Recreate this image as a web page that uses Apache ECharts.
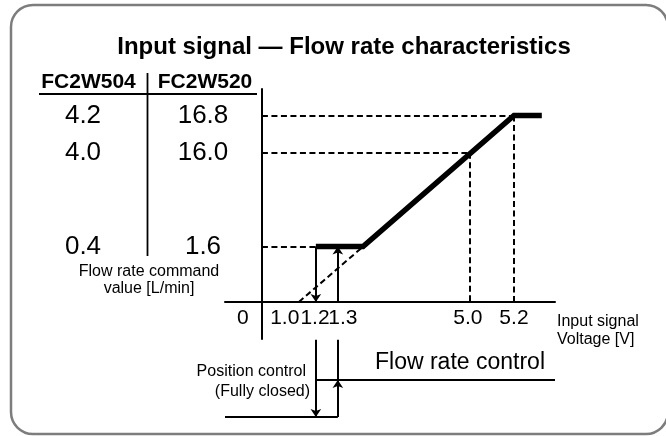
<!DOCTYPE html>
<html>
<head>
<meta charset="utf-8">
<title>Input signal — Flow rate characteristics</title>
<script src="https://cdn.jsdelivr.net/npm/echarts@6/dist/echarts.min.js"></script>
<style>
  html, body { margin: 0; padding: 0; background: #fff; }
  #chart { width: 666px; height: 436px; }
</style>
</head>
<body>
<div id="chart"></div>
<script>
// values printed on the figure
const voltTicks = [0, 1.0, 1.2, 1.3, 5.0, 5.2];
const flowTicks504 = [4.2, 4.0, 0.4];
const flowTicks520 = [16.8, 16.0, 1.6];

// the figure is a schematic, not to scale: where each value sits on the axes
const voltAt = [0, 12.6, 18.4, 25.9, 71.0, 86.0];
const voltLabelAt = [-6.5, 7.8, 18.1, 27.6, 70.3, 86.0]; // labels get pushed apart near 1 V
const flowAt = [87.6, 70.1, 26.0];
const rampStartAt = 34.5;   // end of the 1.6 L/min step
const plateauEndAt = 95.5;  // end of the 16.8 L/min plateau

// lower panel: control mode levels
const modeLevels = { closed: 0, flow: 1, top: 2.08 };

const NARROW = "'Liberation Sans Narrow', 'Arial Narrow', 'Liberation Sans', Arial, sans-serif";
const SANS = "'Liberation Sans', Arial, Helvetica, sans-serif";

const vx = v => voltAt[voltTicks.indexOf(v)];
const fy = v => flowAt[flowTicks520.indexOf(v)];
const nearest = (arr, v) => {
  let best = 0;
  arr.forEach((a, i) => { if (Math.abs(a - v) < Math.abs(arr[best] - v)) best = i; });
  return best;
};

const mainLine = [
  [vx(1.2), fy(1.6)],
  [rampStartAt, fy(1.6)],
  [vx(5.2), fy(16.8)],
  [plateauEndAt, fy(16.8)]
];

const dashedLines = [
  [[0, fy(16.8)], [vx(5.2), fy(16.8)]],
  [[0, fy(16.0)], [vx(5.0), fy(16.0)]],
  [[0, fy(1.6)], [vx(1.2), fy(1.6)]],
  [[vx(5.0), fy(16.0)], [vx(5.0), 0]],
  [[vx(5.2), fy(16.8)], [vx(5.2), 0]],
  [[vx(1.0), 0], [rampStartAt, fy(1.6)]]
];

// hysteresis: close at 1.2 V going down, open at 1.3 V going up
const upperArrows = [
  [[vx(1.2), fy(1.6)], [vx(1.2), 0]],
  [[vx(1.3), 0], [vx(1.3), fy(1.6)]]
];
const lowerArrows = [
  [[vx(1.2), modeLevels.top], [vx(1.2), modeLevels.closed]],
  [[vx(1.3), modeLevels.closed], [vx(1.3), modeLevels.flow]]
];
const lowerLines = [
  [[0, 3.1], [0, modeLevels.top]],   // y axis runs on below the voltage axis
  [[vx(1.3), modeLevels.flow], [vx(1.3), modeLevels.top]],
  [[-12.6, modeLevels.closed], [vx(1.3), modeLevels.closed]],
  [[vx(1.2), modeLevels.flow], [100, modeLevels.flow]]
];

const chart = echarts.init(document.getElementById('chart'));

chart.setOption({
  animation: false,
  backgroundColor: '#fff',
  textStyle: { fontFamily: SANS, color: '#000' },
  title: {
    text: 'Input signal — Flow rate characteristics',
    left: 344,
    top: 35,
    textAlign: 'center',
    padding: 0,
    textStyle: { fontSize: 24, fontWeight: 'bold', color: '#000', fontFamily: SANS }
  },
  grid: [
    { left: 225, right: 111, top: 89, bottom: 134, outerBoundsMode: 'none' },
    { left: 225, right: 111, top: 302, bottom: 19, outerBoundsMode: 'none' }
  ],
  xAxis: [
    {
      gridIndex: 0,
      type: 'value',
      min: -12.6,
      max: 100,
      name: 'Input signal\nVoltage [V]',
      nameLocation: 'end',
      nameGap: 2,
      nameTextStyle: {
        fontSize: 16, lineHeight: 17.5, color: '#000',
        align: 'left', verticalAlign: 'top', padding: [11, 0, 0, 0]
      },
      axisLine: { lineStyle: { color: '#000', width: 2 } },
      axisTick: { show: false },
      splitLine: { show: false },
      axisLabel: {
        customValues: voltLabelAt,
        formatter: v => {
          const t = voltTicks[nearest(voltLabelAt, v)];
          return t === 0 ? '0' : t.toFixed(1);
        },
        margin: 6,
        fontSize: 21,
        color: '#000',
        fontFamily: NARROW
      }
    },
    { gridIndex: 1, type: 'value', min: -12.6, max: 100, show: false }
  ],
  yAxis: [
    {
      gridIndex: 0,
      type: 'value',
      min: 0,
      max: 100,
      axisLine: { show: true, onZero: true, lineStyle: { color: '#000', width: 2 } },
      axisTick: { show: false },
      splitLine: { show: false },
      axisLabel: {
        customValues: flowAt,
        formatter: v => flowTicks520[nearest(flowAt, v)].toFixed(1),
        align: 'center',
        margin: 22,
        fontSize: 26,
        color: '#000'
      }
    },
    { gridIndex: 1, type: 'value', min: modeLevels.closed, max: 3.1, show: false }
  ],
  series: [
    {
      type: 'lines',
      coordinateSystem: 'cartesian2d',
      xAxisIndex: 0, yAxisIndex: 0,
      silent: true,
      z: 2,
      lineStyle: { color: '#000', width: 2, type: [6, 3.5], opacity: 1 },
      data: dashedLines.map(c => ({ coords: c }))
    },
    {
      type: 'lines',
      coordinateSystem: 'cartesian2d',
      xAxisIndex: 0, yAxisIndex: 0,
      silent: true,
      z: 3,
      symbol: ['none', 'arrow'],
      symbolSize: 8,
      lineStyle: { color: '#000', width: 2, opacity: 1 },
      data: upperArrows.map(c => ({ coords: c }))
    },
    {
      type: 'line',
      xAxisIndex: 0, yAxisIndex: 0,
      silent: true,
      z: 5,
      showSymbol: false,
      lineStyle: { color: '#000', width: 5.5, cap: 'butt', join: 'miter' },
      data: mainLine
    },
    {
      type: 'lines',
      coordinateSystem: 'cartesian2d',
      xAxisIndex: 1, yAxisIndex: 1,
      silent: true,
      symbol: ['none', 'arrow'],
      symbolSize: 8,
      lineStyle: { color: '#000', width: 2, opacity: 1 },
      data: lowerArrows.map(c => ({ coords: c }))
    },
    {
      type: 'lines',
      coordinateSystem: 'cartesian2d',
      xAxisIndex: 1, yAxisIndex: 1,
      silent: true,
      lineStyle: { color: '#000', width: 2, opacity: 1 },
      data: lowerLines.map(c => ({ coords: c }))
    }
  ]
});

// FC2W504 column: same rows as the axis labels, read back through the y scale
const col504 = flowTicks504.map((v, i) => ({
  type: 'text',
  x: 83,
  y: chart.convertToPixel({ yAxisIndex: 0 }, flowAt[i]),
  style: { text: v.toFixed(1), font: '26px ' + SANS, fill: '#000', align: 'center', verticalAlign: 'middle' }
}));

chart.setOption({
  graphic: [
    {
      type: 'rect',
      shape: { x: 11, y: 5, width: 657, height: 429, r: 22 },
      style: { fill: 'none', stroke: '#7d7d7d', lineWidth: 2.5 },
      silent: true
    },
    // table header on the left
    {
      type: 'text', x: 88.5, y: 82,
      style: { text: 'FC2W504', font: 'bold 21px ' + SANS, fill: '#000', align: 'center', verticalAlign: 'middle' }
    },
    {
      type: 'text', x: 205, y: 82,
      style: { text: 'FC2W520', font: 'bold 21px ' + SANS, fill: '#000', align: 'center', verticalAlign: 'middle' }
    },
    {
      type: 'line', shape: { x1: 39, y1: 94, x2: 257, y2: 94 },
      style: { stroke: '#000', lineWidth: 2 }
    },
    {
      type: 'line', shape: { x1: 147.5, y1: 73, x2: 147.5, y2: 256 },
      style: { stroke: '#000', lineWidth: 1.8 }
    },
    ...col504,
    {
      type: 'text', x: 149, y: 280,
      style: {
        text: 'Flow rate command\nvalue [L/min]', font: '16px ' + SANS, lineHeight: 17.5,
        fill: '#000', align: 'center', verticalAlign: 'middle'
      }
    },
    // lower panel captions
    {
      type: 'text', x: 306, y: 372,
      style: { text: 'Position control', font: '16px ' + SANS, fill: '#000', align: 'right', verticalAlign: 'middle' }
    },
    {
      type: 'text', x: 310, y: 392,
      style: { text: '(Fully closed)', font: '16px ' + SANS, fill: '#000', align: 'right', verticalAlign: 'middle' }
    },
    {
      type: 'text', x: 375, y: 363,
      style: { text: 'Flow rate control', font: '23px ' + SANS, fill: '#000', align: 'left', verticalAlign: 'middle' }
    }
  ]
});

window.addEventListener('resize', () => {
  chart.resize();
});
</script>
</body>
</html>
